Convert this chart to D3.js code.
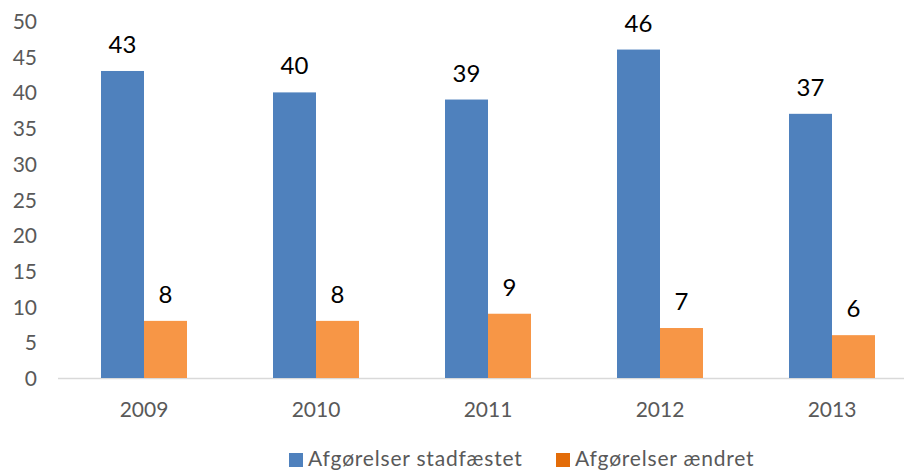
<!DOCTYPE html>
<html><head><meta charset="utf-8">
<script src="https://cdn.jsdelivr.net/npm/d3@7"></script>
<style>body{margin:0;background:#fff}svg{display:block}</style>
</head><body><div id="c"></div>
<script>
const years = ["2009","2010","2011","2012","2013"];
const stadfaestet = [43,40,39,46,37];
const aendret = [8,8,9,7,6];
const seriesNames = ["Afgørelser stadfæstet","Afgørelser ændret"];
const yTicks = [0,5,10,15,20,25,30,35,40,45,50];

const W=904,H=470;
const svg=d3.select("#c").append("svg").attr("width",W).attr("height",H);
const font="Lato, 'Open Sans', sans-serif";
const x=d3.scaleBand().domain(years).range([58,918]).padding(0);
const y=d3.scaleLinear().domain([0,50]).range([378,21]);
const bw=43;

// baseline
svg.append("line").attr("x1",58).attr("x2",W).attr("y1",y(0)+0.5).attr("y2",y(0)+0.5)
  .attr("stroke","#d9d9d9").attr("stroke-width",1.5);

// y axis labels
const yAxis=d3.axisLeft(y).tickValues(yTicks).tickSize(0).tickPadding(0);
const gy=svg.append("g").attr("transform","translate(37,0)").call(yAxis);
gy.select(".domain").remove();
gy.selectAll("text").attr("font-family",font).attr("font-size",21).attr("fill","#595959").attr("dy","0.36em");

// x axis labels
const xAxis=d3.axisBottom(x).tickSize(0).tickPadding(0);
const gx=svg.append("g").attr("transform","translate(0,402)").call(xAxis);
gx.select(".domain").remove();
gx.selectAll("text").attr("font-family",font).attr("font-size",21).attr("fill","#595959").attr("dy","0.72em");

const cx=d=>x(d)+x.bandwidth()/2;
const series=[{vals:stadfaestet,color:"#4F81BD",off:-bw},{vals:aendret,color:"#F79646",off:0}];
series.forEach(s=>{
  svg.selectAll(null).data(years).enter().append("rect")
    .attr("x",(d)=>cx(d)+s.off).attr("width",bw)
    .attr("y",(d,i)=>y(s.vals[i])).attr("height",(d,i)=>y(0)-y(s.vals[i]))
    .attr("fill",s.color);
  svg.selectAll(null).data(years).enter().append("text")
    .attr("x",(d)=>cx(d)+s.off+bw/2).attr("y",(d,i)=>y(s.vals[i])-18)
    .attr("text-anchor","middle").attr("font-family",font).attr("font-size",24).attr("fill","#000")
    .text((d,i)=>s.vals[i]);
});

// legend
const legColors=["#4F81BD","#E36C09"];
const legX=[289,556];
seriesNames.forEach((n,i)=>{
  svg.append("rect").attr("x",legX[i]).attr("y",453).attr("width",14).attr("height",14).attr("fill",legColors[i]);
  svg.append("text").attr("x",legX[i]+19).attr("y",466).attr("font-family",font).attr("font-size",21)
    .attr("letter-spacing",0.8).attr("fill","#595959").text(n);
});
</script></body></html>
